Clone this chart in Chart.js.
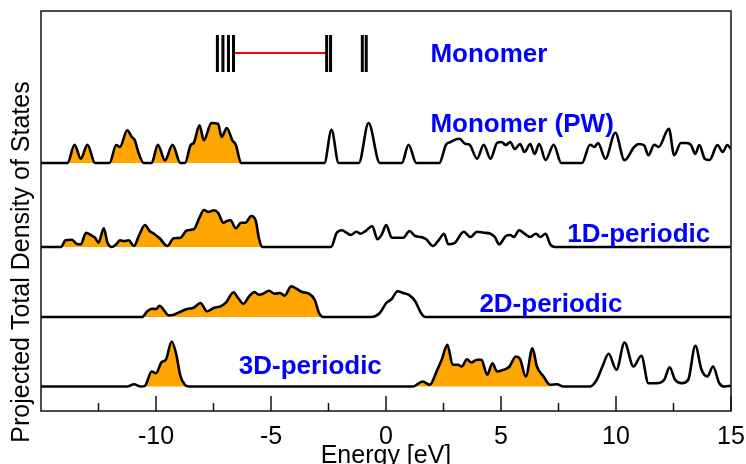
<!DOCTYPE html>
<html>
<head>
<meta charset="utf-8">
<script src="https://cdn.jsdelivr.net/npm/chart.js@4"></script>
<style>
  html, body { margin: 0; padding: 0; background: #fff; }
  canvas { display: block; }
</style>
</head>
<body>
<canvas id="dos" width="746" height="464"></canvas>
<script>
// energies in eV, heights in arbitrary DOS units
const pwE = [-15, -13.85, -13.54, -13.27, -12.98, -12.65, -12.02, -11.73, -11.57, -11.25, -11.05, -10.92, -10.77, -10.53,
  -10.19, -9.92, -9.61, -9.28, -8.94, -8.74, -8.49, -8.36, -8.11, -7.92, -7.59, -7.30, -7.15, -6.92, -6.68, -6.53, -6.30,
  -2.68, -2.37, -2.06, -1.18, -0.76, -0.27, 0.69, 0.98, 1.32, 2.32, 2.61, 2.81, 3.0, 3.19, 3.44, 3.63, 3.96, 4.25, 4.54,
  4.83, 5.02, 5.21, 5.40, 5.60, 5.83, 6.02, 6.27, 6.46, 6.66, 6.94, 7.29, 7.62, 8.52, 8.87, 9.06, 9.22, 9.54, 9.97, 10.37,
  10.79, 10.99, 11.22, 11.41, 11.66, 11.85, 12.30, 12.53, 12.82, 13.07, 13.26, 13.45, 13.62, 13.87, 14.07, 14.41, 14.64, 14.84, 15];
const pwH = [0, 0, 18.3, 4.3, 18.3, 0, 0, 18, 16, 32.7, 26, 22.7, 11, 0,
  0, 18.3, 2.7, 18.3, 0, 0, 18, 20, 37.7, 22.7, 40, 39.3, 26, 35, 22.7, 18.3, 0,
  0, 33.3, 0, 0, 40, 0, 0, 18.3, 0, 0, 18.3, 21, 23.3, 24.3, 19.3, 18.3, 4.3, 18.3, 4.3,
  20, 21, 18, 21, 14, 19, 11, 19, 9, 19, 3, 18.3, 0, 0, 18.3, 16, 20, 4.3, 30.3, 2.7,
  16, 19, 17.7, 7.7, 18.3, 16, 34.3, 7.7, 20, 20, 18, 9, 18, 4, 3, 18, 11, 18, 14];

const d1E = [-15, -14.13, -13.94, -13.65, -13.46, -13.27, -13.04, -12.84, -12.65, -12.50, -12.27, -12.11, -11.92, -11.73,
  -11.57, -11.38, -11.19, -10.96, -10.73, -10.48, -10.28, -10.09, -9.84, -9.51, -9.23, -8.94, -8.65, -8.36, -8.11, -7.92,
  -7.72, -7.49, -7.30, -7.07, -6.92, -6.76, -6.53, -6.30, -6.11, -5.86, -5.66, -5.53, -5.38,
  -2.39, -2.14, -1.91, -1.72, -1.53, -1.29, -1.10, -0.85, -0.60, -0.37, -0.18, 0.01, 0.25, 0.50, 0.75, 1.02, 1.27, 1.52,
  1.75, 2.04, 2.32, 2.52, 2.71, 3.0, 3.38, 3.67, 3.96, 4.25, 4.54, 4.73, 4.92, 5.21, 5.40, 5.56, 5.79, 6.02, 6.27, 6.52,
  6.71, 6.94, 7.14, 7.33, 15];
const d1H = [0, 0, 6.7, 7.3, 3.3, 2.7, 14.3, 12, 9.3, 4.3, 18.7, 4.3, 0, 2.7,
  6.7, 6, 6.7, 1, 12, 22, 16, 13.3, 8.7, 1, 8.7, 9.3, 16.7, 17.7, 29.3, 37,
  35, 36.7, 34.3, 24.3, 26, 26.7, 18.7, 24.3, 24.3, 31, 26, 9.3, 0,
  0, 14.3, 16.7, 14.3, 12, 15.3, 13.3, 16.7, 21, 7.7, 12.7, 22, 9.3, 9.3, 9.3, 16, 11, 10,
  7.7, 1, 7.7, 13.3, 2.7, 4.3, 15.3, 10, 15.3, 14.3, 13.3, 10, 2.7, 11, 12, 10, 16.7, 13.3, 10, 13.3,
  10, 13.3, 2.7, 0, 0];

const d2E = [-15, -10.61, -10.38, -10.19, -10.0, -9.84, -9.65, -9.46, -9.23, -8.94, -8.65, -8.36, -8.07, -7.78, -7.49,
  -7.20, -6.95, -6.63, -6.43, -6.20, -5.95, -5.72, -5.53, -5.34, -5.09, -4.84, -4.61, -4.41, -4.12, -3.87, -3.64, -3.35,
  -3.10, -2.91, -2.72, -0.66, -0.27, 0.01, 0.25, 0.50, 0.75, 0.98, 1.27, 1.52, 1.71, 15];
const d2H = [0, 0, 5.7, 8.3, 8, 11.3, 6.7, 1.7, 2.3, 5.3, 8, 9.3, 14, 5.7, 9,
  10.7, 14.7, 24.7, 19, 13.3, 20.7, 25, 22.3, 23.3, 26.3, 23.3, 24, 21.3, 30.7, 28, 25, 23.3,
  17.3, 4, 0, 0, 4, 14, 18, 25.7, 24, 22.3, 15.7, 4, 0, 0];

const d3E = [-15, -11.25, -10.96, -10.67, -10.48, -10.19, -10.0, -9.76, -9.57, -9.32, -9.13, -8.94, -8.74, -8.55,
  1.17, 1.59, 1.90, 2.23, 2.42, 2.67, 2.90, 3.13, 3.29, 3.52, 3.71, 3.96, 4.15, 4.40, 4.63, 4.83, 5.12, 5.37, 5.64,
  5.83, 6.08, 6.37, 6.56, 6.85, 7.14, 7.43, 7.71, 8.87, 9.16, 9.41, 9.68, 10.02, 10.37, 10.76, 11.10, 11.41, 11.76,
  12.10, 12.33, 12.57, 12.87, 13.14, 13.45, 13.72, 13.97, 14.22, 14.49, 14.74, 15];
const d3H = [0, 0, 2.3, 0, 0.7, 15, 13.3, 24.3, 26.7, 45, 33.3, 10.7, 1.7, 0,
  0, 5, 1.7, 16.7, 26.7, 41.7, 21.7, 21.7, 20, 27.3, 24, 26.7, 26.7, 11.7, 23.3, 15, 16.7, 20, 30,
  27.3, 10, 38.3, 20, 10, 1.7, 2.3, 0, 0, 6.7, 20, 32.7, 16.7, 44, 20, 30.7, 3.3, 3.3,
  6.7, 19.3, 6.7, 3.3, 6.7, 40.7, 16.7, 10, 20, 3.3, 0, 0.7];

// molecular levels of the isolated monomer (eV); HOMO and LUMO joined in red
const monomerLevels = [-7.33, -7.09, -6.85, -6.63, -2.58, -2.41, -1.03, -0.86];
const homo = -6.63;
const lumo = -2.58;

const panelNames = ['Monomer', 'Monomer (PW)', '1D-periodic', '2D-periodic', '3D-periodic'];
// occupied (shaded) energy windows for each curve
const pwOcc = [[-15, -6.30]];
const d1Occ = [[-15, -5.38]];
const d2Occ = [[-15, -2.72]];
const d3Occ = [[-10.67, -8.55], [1.17, 7.14]];

const xTicks = [-10, -5, 0, 5, 10, 15];
const xMinor = [-12.5, -7.5, -2.5, 2.5, 7.5, 12.5];

// vertical stacking of the panels on the shared axis
const panelBase = [248, 164, 94, 24.5];
const stickLow = 339, stickHigh = 376, gapLevel = 358;

const FONT = 'Liberation Sans, Arial, Helvetica, sans-serif';
const ORANGE = '#ffa500';

function pts(E, H, base) {
    return E.map((e, i) => ({ x: e, y: base + H[i] }));
}

const datasets = [];
const curves = [[pwE, pwH, pwOcc], [d1E, d1H, d1Occ], [d2E, d2H, d2Occ], [d3E, d3H, d3Occ]];
curves.forEach(([E, H, occ], k) => {
    const base = panelBase[k];
    const all = pts(E, H, base);
    for (let [a, b] of occ) {
        datasets.push({
            data: all.filter(p => p.x >= a && p.x <= b),
            borderWidth: 0,
            borderColor: 'rgba(0,0,0,0)',
            backgroundColor: ORANGE,
            fill: { value: base },
            pointRadius: 0,
            cubicInterpolationMode: 'monotone',
            order: 2
        });
    }
    datasets.push({
        data: all,
        borderColor: '#000',
        borderWidth: 2.6,
        fill: false,
        pointRadius: 0,
        cubicInterpolationMode: 'monotone',
        order: 1
    });
});

// sticks for the monomer levels, separated by gaps
const sticks = [];
for (let e of monomerLevels) {
    sticks.push({ x: e, y: stickLow }, { x: e, y: stickHigh }, { x: e, y: null });
}
datasets.push({
    data: sticks,
    borderColor: '#000',
    borderWidth: 3,
    pointRadius: 0,
    spanGaps: false,
    borderCapStyle: 'butt',
    order: 0
});
datasets.push({
    data: [{ x: homo, y: gapLevel }, { x: lumo, y: gapLevel }],
    borderColor: '#ff0000',
    borderWidth: 2,
    pointRadius: 0,
    order: 0
});

const labelSpots = [[1.93, 358], [1.93, 288], [7.88, 178], [4.06, 108], [-6.40, 46]];

const decor = {
    id: 'decor',
    afterDraw(chart) {
        const { ctx, chartArea: a, scales: { x, y } } = chart;
        ctx.save();
        // frame
        ctx.strokeStyle = '#111';
        ctx.lineWidth = 1.5;
        ctx.strokeRect(a.left, a.top, a.right - a.left, a.bottom - a.top);
        // inward ticks
        ctx.beginPath();
        for (let v of xTicks) {
            const px = x.getPixelForValue(v);
            ctx.moveTo(px, a.bottom);
            ctx.lineTo(px, a.bottom - 15);
        }
        for (let v of xMinor) {
            const px = x.getPixelForValue(v);
            ctx.moveTo(px, a.bottom);
            ctx.lineTo(px, a.bottom - 8);
        }
        ctx.stroke();
        // tick labels and axis title
        ctx.fillStyle = '#000';
        ctx.font = '25px ' + FONT;
        ctx.textAlign = 'center';
        ctx.textBaseline = 'middle';
        for (let v of xTicks) {
            ctx.fillText(String(v), x.getPixelForValue(v), a.bottom + 26);
        }
        ctx.fillText('Energy [eV]', (a.left + a.right) / 2, a.bottom + 45);
        // panel names
        ctx.fillStyle = '#0000ff';
        ctx.font = 'bold 26px ' + FONT;
        ctx.textBaseline = 'alphabetic';
        ctx.textAlign = 'left';
        panelNames.forEach((name, i) => {
            const [e, v] = labelSpots[i];
            ctx.fillText(name, x.getPixelForValue(e), y.getPixelForValue(v) + 9.3);
        });
        // y title
        ctx.fillStyle = '#000';
        ctx.font = '25px ' + FONT;
        ctx.textAlign = 'center';
        ctx.textBaseline = 'middle';
        ctx.translate(22, 262);
        ctx.rotate(-Math.PI / 2);
        ctx.fillText('Projected Total Density of States', 0, 0);
        ctx.restore();
    }
};

new Chart(document.getElementById('dos'), {
    type: 'line',
    data: { datasets },
    options: {
        responsive: false,
        animation: false,
        devicePixelRatio: 1,
        layout: { padding: { left: 41, right: 15, top: 11, bottom: 53 } },
        plugins: { legend: { display: false }, tooltip: { enabled: false } },
        scales: {
            x: { type: 'linear', min: -15, max: 15, display: false },
            y: { type: 'linear', min: 0, max: 400, display: false }
        }
    },
    plugins: [decor]
});
</script>
</body>
</html>
